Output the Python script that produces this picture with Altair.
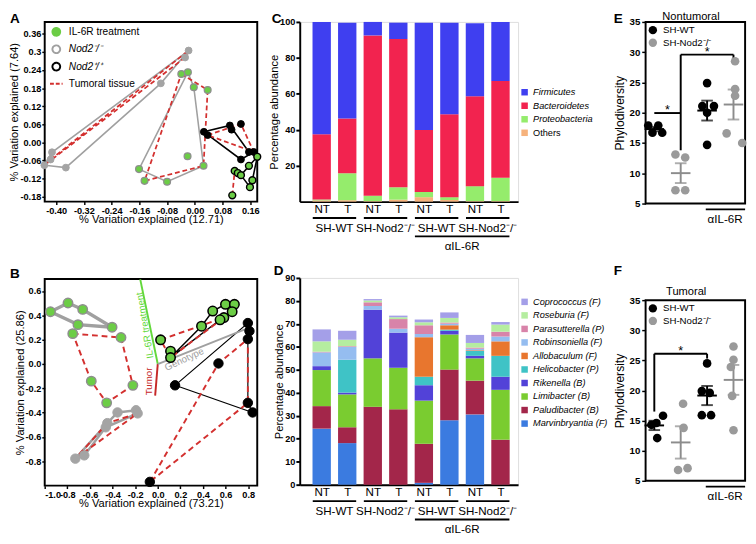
import json
import altair as alt
import pandas as pd

FONT = "Liberation Sans"
BLACK = "#000000"
GREEN = "#6ccd46"
GRAY_PT = "#a4a4a4"
GRAY_EDGE = "#8e8e8e"
GRAY_LN = "#a0a0a0"
RED = "#d3302f"

# ======================= DATA =======================
# ---- Panel A (PCoA, PC1 vs PC2) ----
A_ko_x = [-0.018, -0.028, -0.098, -0.412, -0.416, -0.434, -0.372]
A_ko_y = [0.305, 0.282, 0.196, -0.033, -0.057, -0.076, -0.084]
A_koil_x = [-0.039, -0.020, -0.003, 0.037, -0.021, 0.025, -0.161, -0.145, -0.080]
A_koil_y = [0.227, 0.233, 0.183, 0.174, -0.046, -0.078, -0.089, -0.128, -0.131]
A_wt_x = [0.026, 0.037, 0.101, 0.133, 0.106, 0.156, 0.170, 0.133]
A_wt_y = [0.035, 0.024, 0.056, 0.061, 0.042, -0.032, -0.032, -0.057]
A_wtil_x = [0.115, 0.124, 0.133, 0.156, 0.180, 0.166, 0.159, 0.108]
A_wtil_y = [-0.095, -0.102, -0.109, -0.078, -0.048, -0.126, -0.149, -0.176]
A_ko_hull = [0, 2, 6, 5, 3, 0]
A_ko_tum = [1, 5, 4, 0, 1]
A_koil_hull = [1, 6, 8, 5, 2, 1]
A_koil_tum = [0, 3, 5, 7, 0]
A_wt_hull = [0, 2, 5, 6, 7, 0]
A_wt_tum = [1, 3, 6, 1]
A_wtil_hull = [4, 5, 6, 2, 4]
A_wtil_tum = [7, 0]
A_xticks = [-0.40, -0.32, -0.24, -0.16, -0.08, 0.00, 0.08, 0.16]
A_yticks = [-0.18, -0.12, -0.06, 0.00, 0.06, 0.12, 0.18, 0.24, 0.30, 0.36]
A_legend = ["IL-6R treatment", "Nod2⁻/⁻", "Nod2⁺/⁺", "Tumoral tissue"]

# ---- Panel B (PCoA with biplot vectors) ----
B_koil_x = [-0.949, -0.794, -0.664, -0.706, -0.404, -0.752, -0.325, -0.588, -0.220, -0.452]
B_koil_y = [0.430, 0.502, 0.449, 0.324, 0.303, 0.250, 0.218, -0.141, -0.175, -0.319]
B_ko_x = [-0.192, -0.178, -0.356, -0.446, -0.460, -0.650, -0.729]
B_ko_y = [-0.380, -0.406, -0.398, -0.486, -0.520, -0.751, -0.778]
B_wtil_x = [0.025, 0.113, 0.113, 0.387, 0.486, 0.599, 0.678, 0.585, 0.551, 0.658]
B_wtil_y = [0.199, 0.106, 0.053, 0.311, 0.436, 0.491, 0.491, 0.382, 0.364, 0.430]
B_wt_x = [0.153, 0.537, -0.070, 0.797, 0.811, 0.797, 0.797, 0.839]
B_wt_y = [-0.175, 0.005, -0.969, 0.337, 0.271, 0.205, -0.319, -0.398]
B_koil_hull = [0, 1, 2, 4, 3, 0]
B_koil_tum = [5, 6, 8, 9, 7, 5]
B_ko_hull = [6, 3, 2, 0, 1, 4, 5, 6]
B_ko_tum = [6, 1, 3, 6]
B_wtil_hull = [2, 3, 4, 5, 6, 9, 8, 2]
B_wtil_tum = [0, 7, 2, 0]
B_wt_hull = [0, 3, 4, 5, 6, 7, 0]
B_wt_tum = [2, 1, 5, 6, 2]
B_vec_names = ["IL-6R treatment", "Tumor", "Genotype"]
B_vec_x = [-0.155, -0.023, 0.81]
B_vec_y = [0.696, -0.26, 0.30]
B_lab_x = [-0.112, -0.078, 0.235]
B_lab_y = [0.318, -0.143, 0.038]
B_xticks = [-1.0, -0.8, -0.6, -0.4, -0.2, 0.0, 0.2, 0.4, 0.6, 0.8]
B_yticks = [-0.8, -0.6, -0.4, -0.2, 0.0, 0.2, 0.4, 0.6]

# ---- Panels C / D (stacked relative abundance) ----
samples = ["NT", "T", "NT", "T", "NT", "T", "NT", "T"]
group_labels = ["SH-WT", "SH-Nod2⁻/⁻", "SH-WT", "SH-Nod2⁻/⁻"]
group_mid = [0.5, 2.5, 4.5, 6.5]
group_start = [-0.35, 1.65, 3.65, 5.65]
group_end = [1.35, 3.35, 5.35, 7.35]
treat_label = ["αIL-6R"]
treat_start = [3.65]
treat_end = [7.35]
treat_mid = [5.5]

C_phyla = ["Firmicutes", "Bacteroidetes", "Proteobacteria", "Others"]
C_colors = ["#3f3ff0", "#f2234f", "#95ec6c", "#f6b27c"]
C_values = {
    "Firmicutes":     [62.5, 53.2, 7.5, 9.1, 59.7, 51.0, 40.7, 32.8],
    "Bacteroidetes":  [36.3, 30.5, 89.2, 82.5, 34.5, 46.1, 50.0, 53.9],
    "Proteobacteria": [0.5, 15.0, 3.0, 6.9, 2.9, 1.6, 8.3, 13.0],
    "Others":         [0.7, 0.8, 0.3, 1.1, 2.5, 0.9, 0.3, 0.3],
}

D_genera = ["Coprococcus (F)", "Roseburia (F)", "Parasutterella (P)", "Robinsoniella (F)",
            "Allobaculum (F)", "Helicobacter (P)", "Rikenella (B)", "Limibacter (B)",
            "Paludibacter (B)", "Marvinbryantia (F)"]
D_colors = ["#a49fe8", "#b5eda0", "#d883a9", "#95bdf0", "#e8762e",
            "#3fc3c6", "#5242d8", "#7acc30", "#a3264a", "#3b7be0"]
D_values = {
    "Marvinbryantia (F)": [24.4, 18.1, 0.0, 0.0, 0.8, 28.1, 30.6, 0.0],
    "Paludibacter (B)":   [9.8, 6.9, 33.9, 32.8, 17.0, 22.0, 14.7, 19.6],
    "Limibacter (B)":     [15.7, 14.3, 21.1, 18.1, 18.8, 15.3, 9.7, 21.7],
    "Rikenella (B)":      [1.7, 0.8, 21.2, 15.3, 6.7, 1.6, 1.1, 5.7],
    "Helicobacter (P)":   [0.0, 14.3, 0.0, 0.0, 3.7, 0.5, 2.1, 9.1],
    "Allobaculum (F)":    [0.0, 0.0, 0.0, 0.0, 17.2, 1.9, 0.3, 6.3],
    "Robinsoniella (F)":  [6.0, 5.6, 1.6, 1.7, 1.4, 0.7, 0.7, 2.1],
    "Parasutterella (P)": [0.3, 0.3, 1.6, 4.2, 3.8, 0.5, 0.5, 2.1],
    "Roseburia (F)":      [4.5, 2.8, 0.8, 0.8, 1.3, 2.0, 2.0, 3.1],
    "Coprococcus (F)":    [5.2, 3.9, 0.6, 0.7, 1.2, 2.4, 3.5, 1.1],
}

# ---- Panels E / F (phylodiversity) ----
genos = ["SH-WT", "SH-Nod2⁻/⁻"]
E_title = ["Nontumoral"]
E_group = [1, 1, 1, 1, 2, 2, 2, 2, 3, 3, 3, 3, 3, 4, 4, 4, 4, 4]
E_xpos = [0.77, 1.15, 0.93, 1.30, 1.80, 2.17, 1.80, 2.17, 3.0, 2.82, 3.26, 3.0, 3.0, 4.06, 4.06, 4.06, 3.74, 4.33]
E_vals = [17.9, 17.9, 16.7, 16.7, 13.1, 12.6, 7.2, 7.2, 24.9, 21.1, 21.1, 20.0, 14.7, 28.5, 23.9, 22.8, 16.6, 15.0]
E_br_x1 = [1, 2, 2, 4]
E_br_x2 = [2, 2, 4, 4]
E_br_y1 = [19.95, 13.8, 29.6, 29.6]
E_br_y2 = [19.95, 29.6, 29.6, 28.9]
E_star_x = [1.5, 3.0]
E_star_y = [20.4, 30.0]

F_title = ["Tumoral"]
F_group = [1, 1, 1, 1, 2, 2, 2, 2, 3, 3, 3, 3, 3, 4, 4, 4, 4, 4]
F_xpos = [0.89, 1.08, 1.33, 1.11, 2.09, 2.11, 1.90, 2.26, 3.0, 2.80, 3.10, 2.80, 3.15, 4.0, 4.0, 3.9, 3.95, 4.0]
F_vals = [14.3, 14.6, 15.8, 12.1, 17.8, 13.8, 6.8, 7.1, 24.5, 19.9, 19.6, 15.9, 15.9, 27.3, 25.1, 23.9, 19.1, 13.4]
F_br_x1 = [1, 1, 3]
F_br_x2 = [1, 3, 3]
F_br_y1 = [16.5, 26.1, 26.1]
F_br_y2 = [26.1, 26.1, 25.3]
F_star_x = [2.0]
F_star_y = [26.5]
EF_yticks = [5, 10, 15, 20, 25, 30, 35]
EF_treat_start = [2.95]
EF_treat_end = [4.44]
EF_treat_mid = [3.68]

# ======================= HELPERS =======================
MINUS_FIX = "replace(format(datum.value, '{f}'), '\u2212', '-')"


def axis(title, values, **kw):
    d = dict(title=title, values=values, grid=False, domain=False, ticks=True, tickColor=BLACK,
             tickSize=3, tickWidth=1.5, labelFont=FONT, labelFontSize=9.5, labelFontWeight="bold",
             labelColor=BLACK, titleFont=FONT, titleFontSize=11.5, titleFontWeight="normal",
             titleColor=BLACK, labelPadding=1, labelOverlap=False)
    d.update(kw)
    return alt.Axis(**d)


def qscale(dom):
    return alt.Scale(domain=dom, nice=False, zero=False)


def idx_df(xs, ys, idx):
    return pd.DataFrame({"x": [xs[i] for i in idx], "y": [ys[i] for i in idx],
                         "o": list(range(len(idx)))})


def line_layer(X, Y, xs, ys, idx, color, width, dash=None):
    mk = dict(color=color, strokeWidth=width)
    if dash is not None:
        mk["strokeDash"] = dash
    return alt.Chart(idx_df(xs, ys, idx)).mark_line(**mk).encode(x=X, y=Y, order="o:Q")


def point_layer(X, Y, xs, ys, fill, stroke, size, sw):
    return alt.Chart(pd.DataFrame({"x": xs, "y": ys})).mark_circle(
        size=size, fill=fill, stroke=stroke, strokeWidth=sw, opacity=1).encode(x=X, y=Y)


def letter_layer(ch, dx, dy):
    return alt.Chart(pd.DataFrame({"t": [ch]})).mark_text(
        font=FONT, fontSize=14, fontWeight="bold", align="left", baseline="alphabetic",
        color=BLACK).encode(text="t:N", x=alt.value(dx), y=alt.value(dy))


FRAME = alt.ViewBackground(stroke=BLACK, strokeWidth=2)

# ======================= PANEL A =======================
A_W, A_H = 220, 186
A_X = alt.X("x:Q", scale=qscale([-0.433, 0.18]),
            axis=axis("% Variation explained (12.71)", A_xticks,
                      labelExpr=MINUS_FIX.format(f=".2f"), titlePadding=-1))
A_Y = alt.Y("y:Q", scale=qscale([-0.197, 0.40]),
            axis=axis("% Variation explained (7.64)", A_yticks,
                      labelExpr="abs(datum.value - 0.3) < 1e-6 ? '0.3' : " + MINUS_FIX.format(f=".2f"),
                      titlePadding=0))
A_layers = [
    line_layer(A_X, A_Y, A_ko_x, A_ko_y, A_ko_hull, GRAY_LN, 1.6),
    line_layer(A_X, A_Y, A_koil_x, A_koil_y, A_koil_hull, GRAY_LN, 1.6),
    line_layer(A_X, A_Y, A_wt_x, A_wt_y, A_wt_hull, BLACK, 1.6),
    line_layer(A_X, A_Y, A_wtil_x, A_wtil_y, A_wtil_hull, BLACK, 1.6),
    line_layer(A_X, A_Y, A_ko_x, A_ko_y, A_ko_tum, RED, 1.8, [5, 3]),
    line_layer(A_X, A_Y, A_koil_x, A_koil_y, A_koil_tum, RED, 1.8, [5, 3]),
    line_layer(A_X, A_Y, A_wt_x, A_wt_y, A_wt_tum, RED, 1.8, [5, 3]),
    line_layer(A_X, A_Y, A_wtil_x, A_wtil_y, A_wtil_tum, RED, 1.8, [5, 3]),
    point_layer(A_X, A_Y, A_ko_x, A_ko_y, GRAY_PT, GRAY_PT, 50, 1),
    point_layer(A_X, A_Y, A_koil_x, A_koil_y, GREEN, GRAY_EDGE, 50, 1.3),
    point_layer(A_X, A_Y, A_wt_x, A_wt_y, BLACK, BLACK, 50, 1),
    point_layer(A_X, A_Y, A_wtil_x, A_wtil_y, GREEN, BLACK, 50, 1.5),
]
a_leg = alt.Legend(title=None, orient="none", legendX=4, legendY=5, labelFont=FONT,
                   labelFontSize=10.5, labelColor=BLACK, symbolStrokeWidth=2, rowPadding=1,
                   labelOffset=5, padding=0,
                   labelFontStyle={"expr": "indexof(datum.label, 'Nod2') >= 0 ? 'italic' : 'normal'"})
A_legend_layer = alt.Chart(pd.DataFrame({"item": A_legend})).transform_filter("false").mark_point(
    opacity=1).encode(
    shape=alt.Shape("item:N", scale=alt.Scale(domain=A_legend, range=["circle", "circle", "circle", "stroke"]), legend=a_leg),
    fill=alt.Fill("item:N", scale=alt.Scale(domain=A_legend, range=[GREEN, "transparent", "transparent", "transparent"]), legend=a_leg),
    stroke=alt.Stroke("item:N", scale=alt.Scale(domain=A_legend, range=[GREEN, GRAY_LN, BLACK, RED]), legend=a_leg),
    strokeDash=alt.StrokeDash("item:N", scale=alt.Scale(domain=A_legend, range=[[1, 0], [1, 0], [1, 0], [4, 2]]), legend=a_leg),
    size=alt.Size("item:N", scale=alt.Scale(type="ordinal", domain=A_legend, range=[64, 64, 64, 170]), legend=a_leg),
)
A_chart = alt.layer(*A_layers, A_legend_layer, letter_layer("A", -36, 1)).properties(
    width=A_W, height=A_H, view=FRAME)

# ======================= PANEL B =======================
B_W, B_H = 220, 214
B_xaxis = axis("% Variation explained (73.21)", B_xticks, labelExpr=MINUS_FIX.format(f=".1f"), titlePadding=-1)
B_yaxis = axis("% Variation explained (25.86)", B_yticks, labelExpr=MINUS_FIX.format(f=".1f"), titlePadding=0)
B_X = alt.X("x:Q", scale=qscale([-1.0, 0.88]), axis=B_xaxis)
B_Y = alt.Y("y:Q", scale=qscale([-1.0, 0.70]), axis=B_yaxis)
vec_colors = {"IL-6R treatment": "#63d83b", "Tumor": "#c62828", "Genotype": "#a0a0a0"}
vec_angles = {"IL-6R treatment": 260.5, "Tumor": 270, "Genotype": 335}
B_layers = [
    line_layer(B_X, B_Y, B_koil_x, B_koil_y, B_koil_hull, GRAY_LN, 3.5),
    line_layer(B_X, B_Y, B_ko_x, B_ko_y, B_ko_hull, GRAY_LN, 2.5),
    line_layer(B_X, B_Y, B_wtil_x, B_wtil_y, B_wtil_hull, BLACK, 1.5),
    line_layer(B_X, B_Y, B_wt_x, B_wt_y, B_wt_hull, BLACK, 1.2),
    line_layer(B_X, B_Y, B_koil_x, B_koil_y, B_koil_tum, RED, 2, [6, 4]),
    line_layer(B_X, B_Y, B_ko_x, B_ko_y, B_ko_tum, RED, 2, [6, 4]),
    line_layer(B_X, B_Y, B_wtil_x, B_wtil_y, B_wtil_tum, RED, 2, [6, 4]),
    line_layer(B_X, B_Y, B_wt_x, B_wt_y, B_wt_tum, RED, 2, [6, 4]),
]
for i, name in enumerate(B_vec_names):
    vdf = pd.DataFrame({"x": [0.0], "y": [0.0], "x2": [B_vec_x[i]], "y2": [B_vec_y[i]],
                        "lx": [B_lab_x[i]], "ly": [B_lab_y[i]], "name": [name]})
    B_layers.append(alt.Chart(vdf).mark_rule(color=vec_colors[name], strokeWidth=2).encode(
        x=B_X, y=B_Y, x2="x2:Q", y2="y2:Q"))
    B_layers.append(alt.Chart(vdf).mark_text(
        color=vec_colors[name], font=FONT, fontSize=10, angle=vec_angles[name],
        align="center", baseline="middle").encode(
        x=alt.X("lx:Q", scale=qscale([-1.0, 0.88]), axis=B_xaxis),
        y=alt.Y("ly:Q", scale=qscale([-1.0, 0.70]), axis=B_yaxis),
        text="name:N"))
B_layers += [
    point_layer(B_X, B_Y, B_koil_x, B_koil_y, GREEN, GRAY_EDGE, 95, 1.5),
    point_layer(B_X, B_Y, B_ko_x, B_ko_y, GRAY_PT, GRAY_PT, 95, 1),
    point_layer(B_X, B_Y, B_wtil_x, B_wtil_y, GREEN, BLACK, 95, 1.6),
    point_layer(B_X, B_Y, B_wt_x, B_wt_y, BLACK, BLACK, 95, 1),
]
B_chart = alt.layer(*B_layers, letter_layer("B", -36, -1)).properties(
    width=B_W, height=B_H, view=FRAME)

# ======================= PANELS C / D =======================
label_expr = json.dumps(samples) + "[datum.value]"


def stacked_panel(values, cats, colors, ymax, yticks, H, leg_y, leg_font_style, letter, ldx, ldy):
    rows = []
    for rank, cat in enumerate(reversed(cats)):
        for i, v in enumerate(values[cat]):
            rows.append({"i": i, "cat": cat, "v": v, "rank": rank})
    df = pd.DataFrame(rows)
    xaxis = alt.Axis(title=None, values=list(range(len(samples))), labelExpr=label_expr, ticks=False,
                     domain=True, domainColor=BLACK, domainWidth=2, grid=False, labelFont=FONT,
                     labelFontSize=12, labelColor=BLACK, labelPadding=2, labelFontWeight="normal")
    xsc = qscale([-0.67, 7.5])
    X = alt.X("i:Q", scale=xsc, axis=xaxis)
    Y = alt.Y("v:Q", stack="zero", scale=alt.Scale(domain=[0, ymax], nice=False),
              axis=axis("Percentage abundance", yticks, domain=True, domainColor=BLACK,
                        domainWidth=2, tickSize=4, tickWidth=2, titlePadding=0,
                        labelFontSize=9.5, titleFontSize=11.5))
    leg = alt.Legend(title=None, orient="none", legendX=228, legendY=leg_y, labelFont=FONT,
                     labelFontSize=9.5, labelColor=BLACK, symbolType="square", symbolSize=45,
                     symbolStrokeWidth=0, rowPadding=3, labelOffset=4, padding=0,
                     labelFontStyle=leg_font_style)
    bars = alt.Chart(df).mark_bar(size=19).encode(
        x=X, y=Y,
        color=alt.Color("cat:N", scale=alt.Scale(domain=cats, range=colors), legend=leg),
        order=alt.Order("rank:Q"))
    gdf = pd.DataFrame({"mid": group_mid, "x1": group_start, "x2": group_end, "label": group_labels})
    tdf = pd.DataFrame({"mid": treat_mid, "x1": treat_start, "x2": treat_end, "label": treat_label})
    pair_lines = alt.Chart(gdf).mark_rule(color=BLACK, strokeWidth=2).encode(
        x=alt.X("x1:Q", scale=xsc, axis=xaxis), x2="x2:Q", y=alt.value(H + 17))
    pair_text = alt.Chart(gdf).mark_text(font=FONT, fontSize=12, color=BLACK, baseline="middle").encode(
        x=alt.X("mid:Q", scale=xsc, axis=xaxis), y=alt.value(H + 27), text="label:N")
    treat_line = alt.Chart(tdf).mark_rule(color=BLACK, strokeWidth=2).encode(
        x=alt.X("x1:Q", scale=xsc, axis=xaxis), x2="x2:Q", y=alt.value(H + 36))
    treat_text = alt.Chart(tdf).mark_text(font=FONT, fontSize=12, color=BLACK, baseline="middle").encode(
        x=alt.X("mid:Q", scale=xsc, axis=xaxis), y=alt.value(H + 46), text="label:N")
    return alt.layer(bars, pair_lines, pair_text, treat_line, treat_text,
                     letter_layer(letter, ldx, ldy)).properties(width=226, height=H)


C_chart = stacked_panel(C_values, C_phyla, C_colors, 100, [20, 40, 60, 80, 100], 186, 68,
                        {"expr": "datum.label == 'Others' ? 'normal' : 'italic'"}, "C", -29, 1)
D_chart = stacked_panel(D_values, D_genera, D_colors, 90, list(range(0, 91, 10)), 214, 20,
                        "italic", "D", -27, -3)

# ======================= PANELS E / F =======================


def diversity_panel(groups, xpos, vals, bx1, bx2, by1, by2, sx, sy, title, tx, ty, H, letter, ldy):
    df = pd.DataFrame({"g": groups, "xj": xpos, "val": vals,
                       "geno": [genos[(g - 1) % 2] for g in groups]})
    xsc = qscale([0.67, 4.44])
    ysc = alt.Scale(domain=[5, 35], nice=False, zero=False)
    yax = axis("Phylodiversity", EF_yticks, titleFontSize=12.5, titlePadding=3, tickSize=4,
               labelFontSize=10, labelPadding=2)
    layers = []
    for gname, col in zip(genos, [BLACK, "#8c8c8c"]):
        base = alt.Chart(df).transform_filter(alt.datum.geno == gname)
        layers.append(base.mark_errorbar(extent="stderr", orient="vertical", color=col, thickness=2,
                                         ticks={"size": 12}).encode(
            x=alt.X("g:Q", scale=xsc, axis=None), y=alt.Y("val:Q", scale=ysc, axis=yax)))
        layers.append(base.transform_aggregate(m="mean(val)", groupby=["g"]).transform_calculate(
            xa="datum.g - 0.37", xb="datum.g + 0.37").mark_rule(color=col, strokeWidth=2).encode(
            x=alt.X("xa:Q", scale=xsc, axis=None), x2="xb:Q", y=alt.Y("m:Q", scale=ysc, axis=yax)))
    leg = alt.Legend(title=None, orient="none", legendX=2, legendY=3, labelFont=FONT,
                     labelFontSize=10, labelColor=BLACK, symbolType="circle", symbolSize=75,
                     rowPadding=2, labelOffset=5, padding=0)
    pts = alt.Chart(df).mark_circle(size=80, opacity=1).encode(
        x=alt.X("xj:Q", scale=xsc, axis=None), y=alt.Y("val:Q", scale=ysc, axis=yax),
        color=alt.Color("geno:N", scale=alt.Scale(domain=genos, range=[BLACK, "#9a9a9a"]), legend=leg))
    br = pd.DataFrame({"x1": bx1, "x2": bx2, "y1": by1, "y2": by2})
    brl = alt.Chart(br).mark_rule(color=BLACK, strokeWidth=2).encode(
        x=alt.X("x1:Q", scale=xsc, axis=None), x2="x2:Q",
        y=alt.Y("y1:Q", scale=ysc, axis=yax), y2="y2:Q")
    st = pd.DataFrame({"x": sx, "y": sy, "t": ["*"] * len(sx)})
    stars = alt.Chart(st).mark_text(font=FONT, fontSize=13, color=BLACK, baseline="middle").encode(
        x=alt.X("x:Q", scale=xsc, axis=None), y=alt.Y("y:Q", scale=ysc, axis=yax), text="t:N")
    tdf = pd.DataFrame({"x1": EF_treat_start, "x2": EF_treat_end, "mid": EF_treat_mid, "label": treat_label})
    tl = alt.Chart(tdf).mark_rule(color=BLACK, strokeWidth=2).encode(
        x=alt.X("x1:Q", scale=xsc, axis=None), x2="x2:Q", y=alt.value(H + 6))
    tt = alt.Chart(tdf).mark_text(font=FONT, fontSize=12, color=BLACK, baseline="middle").encode(
        x=alt.X("mid:Q", scale=xsc, axis=None), y=alt.value(H + 16), text="label:N")
    ttl = alt.Chart(pd.DataFrame({"t": title})).mark_text(
        font=FONT, fontSize=11.5, color=BLACK, baseline="middle", align="center").encode(
        x=alt.value(tx), y=alt.value(ty), text="t:N")
    layers += [brl, stars, pts, tl, tt, ttl, letter_layer(letter, -33, ldy)]
    return alt.layer(*layers).properties(width=103, height=H, view=FRAME)


E_chart = diversity_panel(E_group, E_xpos, E_vals, E_br_x1, E_br_x2, E_br_y1, E_br_y2,
                          E_star_x, E_star_y, E_title, 47, -5, 188, "E", 1)
F_chart = diversity_panel(F_group, F_xpos, F_vals, F_br_x1, F_br_x2, F_br_y1, F_br_y2,
                          F_star_x, F_star_y, F_title, 42, -8, 187, "F", -26)

# ======================= LAYOUT =======================
col1 = alt.vconcat(A_chart, B_chart, spacing=42)
col2 = alt.vconcat(C_chart, D_chart, spacing=11).resolve_scale(color="independent").resolve_legend(color="independent")
col3 = alt.vconcat(E_chart, F_chart, spacing=39).resolve_scale(color="independent").resolve_legend(color="independent")
chart = alt.hconcat(col1, col2, col3, spacing=3).resolve_scale(
    color="independent", fill="independent", stroke="independent", shape="independent",
    strokeDash="independent", size="independent").resolve_legend(color="independent").properties(
    padding={"left": 0, "top": -7, "right": 0, "bottom": 0}
).configure_view(stroke="transparent").configure(font=FONT)

chart.save("out.html", embed_options={"renderer": "svg", "actions": False})
